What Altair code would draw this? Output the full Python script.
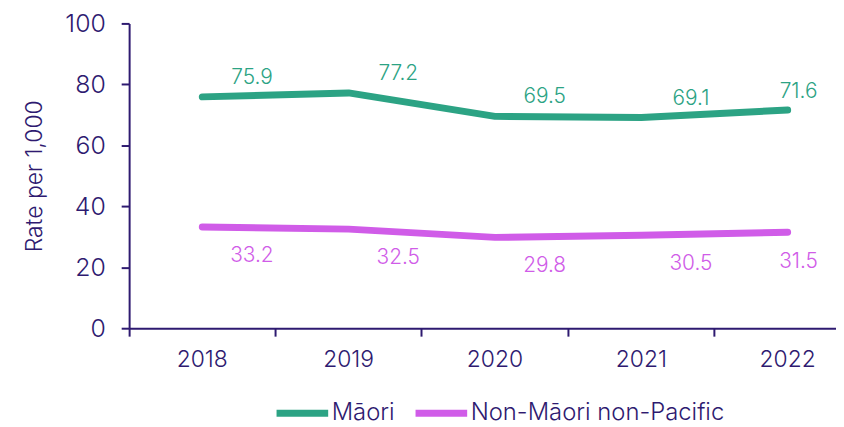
import altair as alt
import pandas as pd

years = ["2018", "2019", "2020", "2021", "2022"]
maori = [75.9, 77.2, 69.5, 69.1, 71.6]
non_maori = [33.2, 32.5, 29.8, 30.5, 31.5]
series_names = ["Māori", "Non-Māori non-Pacific"]
colors = ["#2ca384", "#d05ce8"]

rows = []
for y, a, b in zip(years, maori, non_maori):
    rows.append({"year": y, "series": series_names[0], "value": a, "label": f"{a:.1f}"})
    rows.append({"year": y, "series": series_names[1], "value": b, "label": f"{b:.1f}"})
df = pd.DataFrame(rows)

AX = "#2e1a70"
FONT = "Inter"
BAND = 147.4

xenc = alt.X("year:O", bandPosition=0.5, title=None,
             scale=alt.Scale(type="band", domain=years, range=[0, BAND * 5], paddingInner=0, paddingOuter=0),
             axis=alt.Axis(bandPosition=0, labelAngle=0, labelFontSize=23,
                           labelPadding=13, tickSize=8, domainWidth=2, tickWidth=2))
yenc = alt.Y("value:Q", title="Rate per 1,000",
             scale=alt.Scale(domain=[0, 100], nice=False),
             axis=alt.Axis(values=[0, 20, 40, 60, 80, 100], tickSize=8, labelFontSize=25,
                           labelPadding=16, titleFontSize=23, titlePadding=19, grid=False,
                           domainWidth=2, tickWidth=2, titleFontWeight=300))
cscale = alt.Scale(domain=series_names, range=colors)
color = alt.Color("series:N", scale=cscale,
                  legend=alt.Legend(orient="none", legendX=145, legendY=363, direction="horizontal",
                                    title=None, symbolType="stroke", symbolSize=2704,
                                    symbolStrokeWidth=7, labelFontSize=24, labelColor=AX,
                                    labelOffset=0, columnPadding=6, labelFont=FONT,
                                    labelFontWeight=300, labelLimit=0))

base = alt.Chart(df)
lines = base.mark_line(strokeWidth=7, strokeCap="round", strokeJoin="round").encode(
    x=xenc, y=yenc, color=color)


def labels(series, last, dx, dy):
    cond = (alt.datum.series == series) & ((alt.datum.year == years[-1]) if last else (alt.datum.year != years[-1]))
    return base.transform_filter(cond).mark_text(
        dx=dx, dy=dy, fontSize=21, font=FONT, fontWeight=300
    ).encode(x=xenc, y=yenc, text="label:N",
             color=alt.Color("series:N", scale=cscale, legend=None))


chart = alt.layer(
    lines,
    labels(series_names[0], False, 50, -19),
    labels(series_names[0], True, 11, -18),
    labels(series_names[1], False, 50, 29),
    labels(series_names[1], True, 11, 30),
).properties(
    width=712, height=307,
    autosize=alt.AutoSizeParams(type="none"),
    padding={"left": 122, "top": 14, "right": 0, "bottom": 100},
).configure_axis(
    domainColor=AX, tickColor=AX, labelColor=AX, titleColor=AX,
    labelFont=FONT, titleFont=FONT, labelFontWeight=300,
).configure_view(stroke=None)

chart.save("out.html", embed_options={"renderer": "svg", "actions": False})
